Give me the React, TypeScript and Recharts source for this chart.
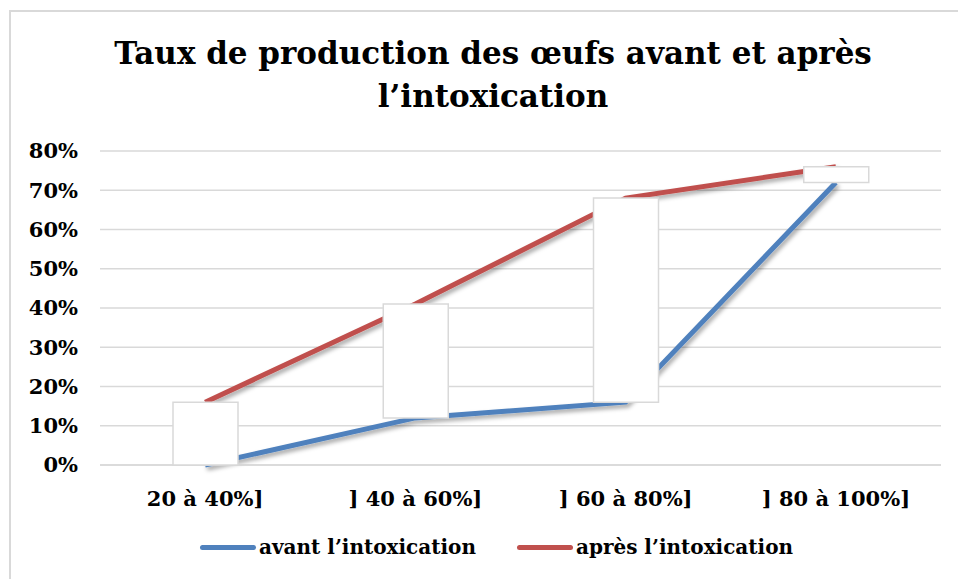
import { Bar, CartesianGrid, ComposedChart, Line, XAxis, YAxis } from "recharts";

const categories = ["20 à 40%]", "] 40 à 60%]", "] 60 à 80%]", "] 80 à 100%]"];
const avant = [0.0, 0.12, 0.16, 0.72];
const apres = [0.16, 0.41, 0.68, 0.76];
const yTicks = [0, 0.1, 0.2, 0.3, 0.4, 0.5, 0.6, 0.7, 0.8];

const BLUE = "#4F81BD";
const RED = "#C0504D";
const GRID = "#D9D9D9";
const FONT = "'DejaVu Serif', serif";

const data = categories.map((c, i) => ({
  cat: c,
  avant: avant[i],
  apres: apres[i],
  // up/down bar between the two series
  range: [Math.min(avant[i], apres[i]), Math.max(avant[i], apres[i])],
}));

const legend = [
  { label: "avant l’intoxication", color: BLUE },
  { label: "après l’intoxication", color: RED },
];

export default function App() {
  return (
    <div
      style={{
        position: "fixed",
        left: 0,
        top: 0,
        width: 958,
        height: 579,
        overflow: "hidden",
        background: "#fff",
        fontFamily: FONT,
      }}
    >
      <div
        style={{
          position: "absolute",
          left: 9,
          top: 10,
          width: 1000,
          height: 620,
          border: `2px solid ${GRID}`,
        }}
      />
      <div
        style={{
          position: "absolute",
          left: 93,
          top: 32,
          width: 800,
          textAlign: "center",
          fontWeight: 700,
          fontSize: 31,
          lineHeight: "43px",
          color: "#000",
        }}
      >
        Taux de production des œufs avant et après
        <br />
        l’intoxication
      </div>

      <div style={{ position: "absolute", left: 0, top: 0 }}>
        <ComposedChart
          width={958}
          height={579}
          data={data}
          margin={{ top: 151, right: 17, bottom: 74, left: 0 }}
        >
          <defs>
            <filter id="shadow" x="-10%" y="-10%" width="130%" height="140%">
              <feDropShadow dx="2" dy="3" stdDeviation="2" floodColor="#000" floodOpacity={0.35} />
            </filter>
          </defs>
          <CartesianGrid stroke={GRID} strokeWidth={1.5} vertical={false} />
          <XAxis
            dataKey="cat"
            height={40}
            axisLine={{ stroke: GRID, strokeWidth: 1.5 }}
            tickLine={false}
            tickSize={0}
            tickMargin={26}
            tick={{ fill: "#000", fontSize: 21, fontWeight: 700, fontFamily: FONT }}
          />
          <YAxis
            width={100}
            domain={[0, 0.8]}
            ticks={yTicks}
            axisLine={false}
            tickLine={false}
            tickSize={0}
            tickMargin={22}
            tickFormatter={(v: number) => `${Math.round(v * 100)}%`}
            tick={{ fill: "#000", fontSize: 21, fontWeight: 700, fontFamily: FONT }}
          />
          <Line
            type="linear"
            dataKey="avant"
            stroke={BLUE}
            strokeWidth={5}
            dot={false}
            filter="url(#shadow)"
            isAnimationActive={false}
          />
          <Line
            type="linear"
            dataKey="apres"
            stroke={RED}
            strokeWidth={5}
            dot={false}
            filter="url(#shadow)"
            isAnimationActive={false}
          />
          <Bar
            dataKey="range"
            barSize={65}
            fill="#fff"
            stroke={GRID}
            strokeWidth={1.5}
            zIndex={500}
            isAnimationActive={false}
          />
        </ComposedChart>
      </div>

      <div
        style={{
          position: "absolute",
          left: 200,
          top: 535,
          display: "flex",
          gap: 41,
          fontWeight: 700,
          fontSize: 20,
          color: "#000",
        }}
      >
        {legend.map((l) => (
          <div key={l.label} style={{ display: "flex", alignItems: "center" }}>
            <span
              style={{
                display: "inline-block",
                width: 56,
                height: 5,
                borderRadius: 3,
                background: l.color,
                marginRight: 3,
              }}
            />
            <span>{l.label}</span>
          </div>
        ))}
      </div>
    </div>
  );
}
